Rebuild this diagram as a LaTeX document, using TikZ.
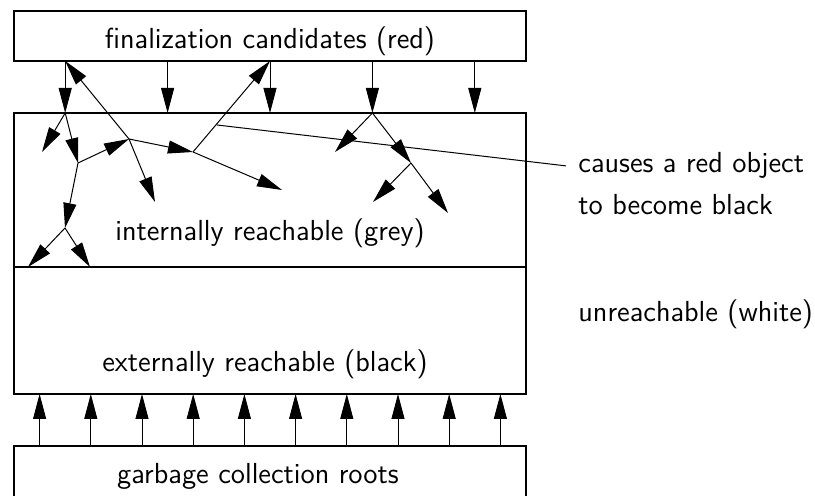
\documentclass[tikz,border=0pt]{standalone}
\usepackage{tikz}
\usetikzlibrary{arrows.meta}

\begin{document}
\begin{tikzpicture}[x=0.5pt, y=-0.5pt, font=\sffamily\fontsize{14.5}{17}\selectfont,
        region/.style={draw, line width=1pt, outer sep=0pt, minimum width=256pt},
        objarrow/.style={-{Triangle[length=12.5pt, width=6.5pt]}, line width=0.5pt}]
        \useasboundingbox (0, 0) rectangle (815, 496);
        % the four regions
        \node [region, minimum height=25pt] (red) at (270, 36) {};
        \node [region, minimum height=77pt] (grey) at (270, 190) {};
        \node [region, minimum height=63.5pt] (black) at (270, 330.5) {};
        \node [region, minimum height=40pt] (roots) at (270, 486) {};
        \node [anchor=base] (redlabel) at (270, 49) {finalization candidates (red)};
        \node [anchor=base] (greylabel) at (270, 241) {internally reachable (grey)};
        \node [anchor=base] (blacklabel) at (265, 372) {externally reachable (black)};
        \node [anchor=base] (rootslabel) at (258, 484) {garbage collection roots};
        \node [anchor=base west, inner sep=0pt] (whitelabel) at (578, 322) {unreachable (white)};
        \node [anchor=base west, inner xsep=6pt, inner ysep=0pt] (cause) at (566, 173) {causes a red object};
        \node [anchor=base west, inner sep=0pt] (become) at (578, 215) {to become black};
        % pointers between the regions
        \foreach \k in {1, ..., 5}
            \draw [objarrow] (red.south west) ++(102.4*\k - 51.2, 0) coordinate (drop\k) -- (drop\k |- grey.north) coordinate (hit\k);
        \foreach \k in {1, ..., 10}
            \draw [objarrow] (roots.north west) ++(51.2*\k - 25.6, 0) coordinate (root\k) -- (root\k |- black.south);
        % objects inside the grey region
        \coordinate (b) at (78, 163);
        \coordinate (c) at (129, 139);
        \coordinate (d) at (193, 152);
        \coordinate (e) at (65, 228);
        \coordinate (g) at (411, 163);
        \coordinate (a1) at (42, 152);
        \coordinate (c2) at (155, 202);
        \coordinate (d2) at (282, 190);
        \coordinate (e1) at (28, 267);
        \coordinate (e2) at (90, 267);
        \coordinate (f1) at (335, 152);
        \coordinate (g1) at (373, 202);
        \coordinate (g2) at (448, 213);
        \coordinate (touch) at (217, 125);
        \draw [objarrow] (hit1) -- (a1);
        \draw [objarrow] (hit1) -- (b);
        \draw [objarrow] (b) -- (c);
        \draw [objarrow] (b) -- (e);
        \draw [objarrow] (c) -- (drop1);
        \draw [objarrow] (c) -- (c2);
        \draw [objarrow] (c) -- (d);
        \draw [objarrow] (d) -- (drop3);
        \draw [objarrow] (d) -- (d2);
        \draw [objarrow] (e) -- (e1);
        \draw [objarrow] (e) -- (e2);
        \draw [objarrow] (hit4) -- (f1);
        \draw [objarrow] (hit4) -- (g);
        \draw [objarrow] (g) -- (g1);
        \draw [objarrow] (g) -- (g2);
        \draw [line width=0.5pt] (touch) -- (cause.west);
    \end{tikzpicture}
\end{document}
